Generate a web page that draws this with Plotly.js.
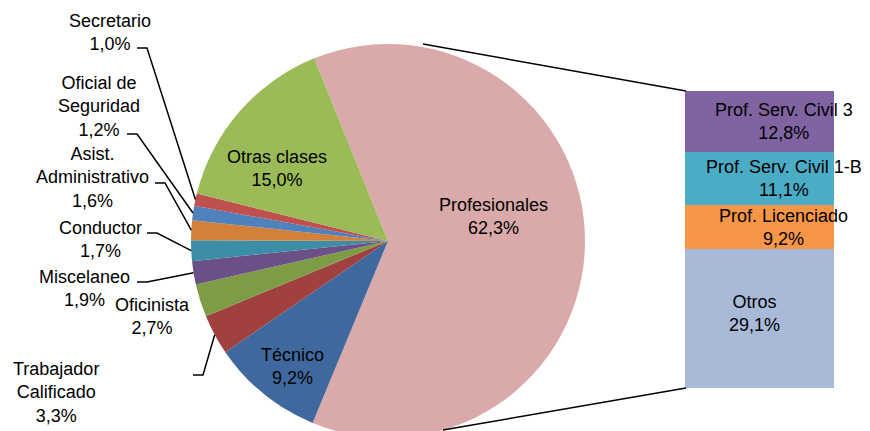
<!DOCTYPE html>
<html><head><meta charset="utf-8">
<script src="https://cdn.plot.ly/plotly-3.0.1.min.js"></script>
<style>html,body{margin:0;padding:0;overflow:hidden;background:#fff}#chart{width:870px;height:450px}</style>
</head><body><div id="chart"></div>
<script>
// ---- data ----
const pieLabels = ["Profesionales","Técnico","Trabajador<br>Calificado","Oficinista","Miscelaneo","Conductor","Asist.<br>Administrativo","Oficial de<br>Seguridad","Secretario","Otras clases"];
const pieValues = [62.3, 9.2, 3.3, 2.7, 1.9, 1.7, 1.6, 1.2, 1.0, 15.0];
const pieColors = ["#D9AAA9","#3F699E","#A0413F","#7E9C46","#6A5087","#3B8EA5","#D3813A","#4F81BD","#C0504D","#9BBB59"];
const barLabels = ["Otros","Prof. Licenciado","Prof. Serv. Civil 1-B","Prof. Serv. Civil 3"];
const barValues = [29.1, 9.2, 11.1, 12.8];
const barColors = ["#A9B9D8","#F79646","#4BACC6","#8064A2"];

// ---- layout helpers (pixel -> paper) ----
const W = 870, H = 450;
const px = x => x / W, py = y => 1 - y / H;
const fmt = v => v.toFixed(1).replace('.', ',') + '%';
const cx = 388, cy = 241, R = 197, ROT = -22;

// label placement (pixel centres) and leader elbows (null = no leader)
const labelPos = [
  {x:493, y:216.5}, {x:292, y:366}, {x:56, y:392}, {x:152, y:316}, {x:84, y:288},
  {x:100, y:239}, {x:92, y:177}, {x:99, y:107}, {x:110, y:32}, {x:277, y:168.5}
];
const elbows = [null, null, [[193,375],[203,375]], null, [[137,282],[147,282]], [[147,233],[157,233]],
  [[155,183],[165,183]], [[127,134],[137,134]], [[137,48],[147,48]], null];

const total = pieValues.reduce((a,b)=>a+b,0);
const annotations = [], shapes = [];
let cum = 0;
pieValues.forEach((v,i) => {
  const mid = (ROT + (cum + v/2) / total * 360) * Math.PI / 180;
  cum += v;
  annotations.push({xref:'paper', yref:'paper', x:px(labelPos[i].x), y:py(labelPos[i].y),
    xanchor:'center', yanchor:'middle', showarrow:false, align:'center',
    text: pieLabels[i] + '<br>' + fmt(v), font:{size:18, color:'#000', family:'Liberation Sans, Arial, sans-serif'}});
  if (elbows[i]) {
    const ex = cx + R * Math.sin(mid), ey = cy - R * Math.cos(mid);
    const p = elbows[i];
    shapes.push({type:'path', xref:'paper', yref:'paper',
      path:`M ${px(p[0][0])} ${py(p[0][1])} L ${px(p[1][0])} ${py(p[1][1])} L ${px(ex)} ${py(ey)}`,
      line:{color:'#000', width:1.5}});
  }
});
// connector lines pie -> bar
shapes.push({type:'line', xref:'paper', yref:'paper', x0:px(423), y0:py(44), x1:px(686), y1:py(91), line:{color:'#000', width:1.5}});
shapes.push({type:'line', xref:'paper', yref:'paper', x0:px(443), y0:py(430), x1:px(686), y1:py(388), line:{color:'#000', width:1.5}});

const barTotal = barValues.reduce((a,b)=>a+b,0);
const traces = [{
  type:'pie', labels:pieLabels, values:pieValues, sort:false, direction:'clockwise', rotation:ROT,
  marker:{colors:pieColors, line:{width:0}}, textinfo:'none', hoverinfo:'label+percent',
  domain:{x:[px(cx-R), px(cx+R)], y:[py(cy+R), py(cy-R)]}, showlegend:false
}];
let base = 0;
barLabels.forEach((l,i) => {
  traces.push({type:'bar', x:[0], y:[barValues[i]], name:l, marker:{color:barColors[i], line:{width:0}},
    width:1, xaxis:'x', yaxis:'y', showlegend:false, hoverinfo:'name+y'});
  annotations.push({xref:'x', yref:'y', x:0, y:base + barValues[i]/2, xshift:(i===0?-5:24), yshift:(i===0?5:0),
    xanchor:'center', yanchor:'middle', showarrow:false, align:'center',
    text: l + '<br>' + fmt(barValues[i]), font:{size:18, color:'#000', family:'Liberation Sans, Arial, sans-serif'}});
  base += barValues[i];
});

const layout = {
  width:W, height:H, margin:{l:0,r:0,t:0,b:0}, paper_bgcolor:'#fff', plot_bgcolor:'rgba(0,0,0,0)',
  barmode:'stack', bargap:0,
  xaxis:{domain:[px(685), px(834)], range:[-0.5,0.5], visible:false, fixedrange:true},
  yaxis:{domain:[py(388), py(91)], range:[0, barTotal], visible:false, fixedrange:true},
  annotations, shapes,
  font:{family:'Liberation Sans, Arial, sans-serif', size:18, color:'#000'}
};
Plotly.newPlot('chart', traces, layout, {displayModeBar:false, staticPlot:true});
</script></body></html>
